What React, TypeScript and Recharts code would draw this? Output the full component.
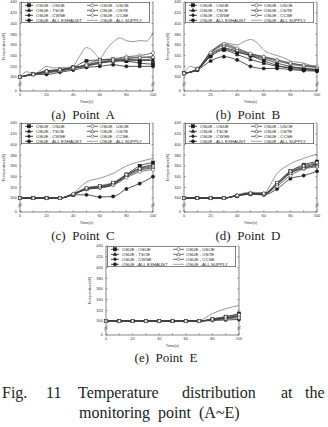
import React from 'react';
import { LineChart, Line, XAxis, YAxis, Legend } from 'recharts';

// ---- shared axes ----
const TIME = [0, 10, 20, 30, 40, 50, 60, 70, 80, 90, 100];
const TIME_FINE = [0, 5, 10, 15, 20, 25, 30, 35, 40, 45, 50, 55, 60, 65, 70, 75, 80, 85, 90, 95, 100];
const X_TICKS = [0, 10, 20, 30, 40, 50, 60, 70, 80, 90, 100];
// the temperature axis is broken: its bottom edge is labelled "0"
const Y_BOTTOM = 274;
const Y_BREAK = 287;
const Y_TICKS = [274, 287, 300, 320, 340, 360, 380, 400, 420, 440];

const SERIES_NAMES = [
  'OSUE - OSUE',
  'OSUE - TSOE',
  'OSUE - CWSE',
  'OSUE - ALL EXHAUST',
  'OSUE - USOE',
  'OSUE - OSTE',
  'OSUE - CCSE',
  'OSUE - ALL SUPPLY',
];

// ---- Point A (K) ----
const A_OSUE = [300, 306, 310, 313, 318, 330, 332, 333, 330, 326, 324];
const A_TSOE = [300, 305, 308, 311, 316, 320, 326, 329, 330, 331, 331];
const A_CWSE = [300, 305, 312, 314, 318, 322, 328, 330, 333, 332, 334];
const A_ALL_EXHAUST = [300, 305, 305, 309, 313, 318, 320, 323, 320, 320, 320];
const A_USOE = [300, 306, 309, 312, 316, 324, 332, 334, 338, 340, 345];
const A_OSTE = [300, 305, 310, 313, 317, 321, 326, 330, 334, 337, 338];
const A_CCSE = [300, 305, 311, 314, 318, 322, 329, 332, 336, 336, 337];
const A_ALL_SUPPLY = [300, 310, 305, 312, 320, 317, 318, 318, 321, 340, 355, 348, 335, 352, 365, 373, 368, 366, 368, 367, 383];

// ---- Point B (K) ----
const B_OSUE = [307, 314, 340, 352, 346, 340, 330, 322, 316, 314, 312];
const B_TSOE = [307, 314, 338, 350, 342, 333, 326, 320, 318, 316, 314];
const B_CWSE = [307, 314, 342, 354, 348, 340, 334, 326, 320, 316, 314];
const B_ALL_EXHAUST = [307, 313, 330, 338, 332, 320, 316, 316, 314, 312, 311];
const B_USOE = [307, 316, 345, 360, 352, 343, 338, 332, 326, 322, 318];
const B_OSTE = [307, 315, 344, 358, 350, 342, 336, 330, 324, 320, 318];
const B_CCSE = [307, 315, 346, 362, 354, 344, 338, 332, 326, 322, 320];
const B_ALL_SUPPLY = [307, 320, 316, 330, 348, 356, 364, 362, 360, 366, 370, 364, 350, 344, 340, 336, 330, 328, 326, 322, 320];

// ---- Point C (K) ----
const C_OSUE = [300, 300, 300, 300, 306, 318, 322, 328, 344, 360, 366];
const C_TSOE = [300, 300, 300, 300, 307, 317, 320, 326, 342, 356, 362];
const C_CWSE = [300, 300, 300, 300, 307, 316, 319, 325, 340, 352, 356];
const C_ALL_EXHAUST = [300, 300, 300, 300, 306, 306, 302, 303, 317, 327, 340];
const C_USOE = [300, 300, 300, 300, 307, 317, 319, 324, 338, 349, 353];
const C_OSTE = [300, 300, 300, 300, 308, 318, 321, 327, 343, 354, 358];
const C_CCSE = [300, 300, 300, 300, 308, 319, 323, 329, 344, 355, 360];
const C_ALL_SUPPLY = [300, 300, 300, 300, 309, 330, 337, 346, 360, 368, 374];

// ---- Point D (K) ----
const D_OSUE = [300, 300, 300, 300, 304, 308, 307, 328, 350, 362, 368];
const D_TSOE = [300, 300, 300, 300, 305, 309, 308, 325, 346, 356, 362];
const D_CWSE = [300, 300, 300, 300, 305, 309, 308, 326, 348, 358, 364];
const D_ALL_EXHAUST = [300, 300, 300, 300, 304, 307, 306, 317, 336, 342, 350];
const D_USOE = [300, 300, 300, 300, 305, 308, 307, 322, 342, 354, 358];
const D_OSTE = [300, 300, 300, 300, 305, 309, 308, 326, 347, 356, 360];
const D_CCSE = [300, 300, 300, 300, 305, 309, 309, 329, 350, 360, 366];
const D_ALL_SUPPLY = [300, 300, 300, 300, 306, 311, 310, 346, 364, 374, 382];

// ---- Point E (K) ----
const E_OSUE = [300, 300, 300, 300, 300, 300, 300, 300, 304, 308, 314];
const E_TSOE = [300, 300, 300, 300, 300, 300, 300, 300, 303, 306, 310];
const E_CWSE = [300, 300, 300, 300, 300, 300, 300, 300, 302, 305, 308];
const E_ALL_EXHAUST = [300, 300, 300, 300, 300, 300, 300, 300, 301, 302, 303];
const E_USOE = [300, 300, 300, 300, 300, 300, 300, 300, 302, 304, 306];
const E_OSTE = [300, 300, 300, 300, 300, 300, 300, 300, 303, 306, 310];
const E_CCSE = [300, 300, 300, 300, 300, 300, 300, 300, 304, 308, 312];
const E_ALL_SUPPLY = [300, 300, 300, 300, 300, 300, 300, 301, 314, 323, 329];

type Pt = { t: number; v: number };
const toPts = (times: number[], vals: number[]): Pt[] => times.map((t, i) => ({ t, v: vals[i] }));

type MarkerKind = 'square' | 'triangle' | 'diamond' | 'circle' | 'none';
const SERIES_STYLE: { marker: MarkerKind; filled: boolean; color: string }[] = [
  { marker: 'square', filled: true, color: '#1c1c1c' },
  { marker: 'triangle', filled: true, color: '#1c1c1c' },
  { marker: 'diamond', filled: true, color: '#1c1c1c' },
  { marker: 'circle', filled: true, color: '#1c1c1c' },
  { marker: 'circle', filled: false, color: '#444' },
  { marker: 'triangle', filled: false, color: '#444' },
  { marker: 'diamond', filled: false, color: '#444' },
  { marker: 'none', filled: false, color: '#8a8a8a' },
];

const AXIS = '#333';
const SANS = 'Liberation Sans, Arial, sans-serif';
const SERIF = 'Liberation Serif, Times New Roman, serif';

function Marker({ kind, cx, cy, filled, color }: { kind: MarkerKind; cx: number; cy: number; filled: boolean; color: string }) {
  const r = 1.6;
  const fill = filled ? color : '#fff';
  const common = { fill, stroke: color, strokeWidth: 0.55 };
  if (kind === 'square') return <rect x={cx - r} y={cy - r} width={2 * r} height={2 * r} {...common} />;
  if (kind === 'triangle')
    return <polygon points={`${cx},${cy - r - 0.3} ${cx + r + 0.2},${cy + r - 0.3} ${cx - r - 0.2},${cy + r - 0.3}`} {...common} />;
  if (kind === 'diamond')
    return <polygon points={`${cx},${cy - r - 0.2} ${cx + r},${cy} ${cx},${cy + r + 0.2} ${cx - r},${cy}`} {...common} />;
  if (kind === 'circle') return <circle cx={cx} cy={cy} r={r} {...common} />;
  return <g />;
}

function BreakMark({ x, y }: { x: number; y: number }) {
  return (
    <g stroke={AXIS} strokeWidth={0.5}>
      <line x1={x - 1.8} y1={y + 0.2} x2={x + 1.8} y2={y - 1.8} />
      <line x1={x - 1.8} y1={y + 2} x2={x + 1.8} y2={y} />
    </g>
  );
}

function LeftTick(props: any) {
  const { x, y, payload } = props;
  const v = payload.value;
  if (v === Y_BREAK) return <BreakMark x={x} y={y} />;
  const label = v === Y_BOTTOM ? '0' : String(v);
  return (
    <g>
      <line x1={x} x2={x + 1.5} y1={y} y2={y} stroke={AXIS} strokeWidth={0.5} />
      <text x={x - 3} y={y + 1.4} textAnchor="end" fontSize={4} fill="#333" fontFamily={SANS}>
        {label}
      </text>
    </g>
  );
}

function RightTick(props: any) {
  const { x, y, payload } = props;
  if (payload.value === Y_BREAK) return <BreakMark x={x} y={y} />;
  return <line x1={x} x2={x - 1.5} y1={y} y2={y} stroke={AXIS} strokeWidth={0.5} />;
}

function BottomTick(props: any) {
  const { x, y, payload } = props;
  const v = payload.value;
  return (
    <g>
      <line x1={x} x2={x} y1={y} y2={y - 1.5} stroke={AXIS} strokeWidth={0.5} />
      {v % 20 === 0 && (
        <text x={x} y={y + 4.8} textAnchor="middle" fontSize={4} fill="#333" fontFamily={SANS}>
          {v}
        </text>
      )}
    </g>
  );
}

function TopTick(props: any) {
  const { x, y } = props;
  return <line x1={x} x2={x} y1={y} y2={y + 1.5} stroke={AXIS} strokeWidth={0.5} />;
}

function LegendBox() {
  return (
    <svg width={129} height={21} style={{ display: 'block' }}>
      <rect x={0.3} y={0.3} width={128.4} height={20.4} fill="#fff" stroke={AXIS} strokeWidth={0.6} />
      {SERIES_NAMES.map((name, i) => {
        const col = i < 4 ? 0 : 1;
        const row = i % 4;
        const y = 3.3 + row * 5;
        const x0 = col === 0 ? 4 : 66;
        const x1 = col === 0 ? 12 : 77;
        const tx = col === 0 ? 15 : 79;
        const s = SERIES_STYLE[i];
        return (
          <g key={name}>
            <line x1={x0} x2={x1} y1={y} y2={y} stroke={s.color} strokeWidth={0.8} />
            <Marker kind={s.marker} cx={(x0 + x1) / 2} cy={y} filled={s.filled} color={s.color} />
            <text x={tx} y={y + 1.5} fontSize={4.4} fill="#222" fontFamily={SANS}>
              {name}
            </text>
          </g>
        );
      })}
    </svg>
  );
}

type PanelProps = {
  left: number;
  top: number;
  values: number[][];
  supply: number[];
  supplyTimes: number[];
};

function PointPanel({ left, top, values, supply, supplyTimes }: PanelProps) {
  const lines = values.map((vals) => toPts(TIME, vals));
  const supplyPts = toPts(supplyTimes, supply);
  return (
    <div style={{ position: 'absolute', left, top }}>
      <LineChart width={164} height={104} margin={{ top: 2, right: 10, bottom: 0, left: 0 }}>
        <XAxis
          dataKey="t"
          type="number"
          domain={[0, 100]}
          ticks={X_TICKS}
          interval={0}
          tickSize={0}
          tickMargin={0}
          tickLine={false}
          tick={BottomTick}
          height={13}
          stroke={AXIS}
          strokeWidth={0.6}
          label={{ value: 'Time(s)', position: 'insideBottom', offset: 1.5, fontSize: 4, fill: '#333', fontFamily: SANS }}
        />
        <XAxis
          xAxisId="top"
          orientation="top"
          dataKey="t"
          type="number"
          domain={[0, 100]}
          ticks={X_TICKS}
          interval={0}
          tickSize={0}
          tickMargin={0}
          tickLine={false}
          tick={TopTick}
          height={0}
          stroke={AXIS}
          strokeWidth={0.6}
        />
        <YAxis
          type="number"
          domain={[Y_BOTTOM, 440]}
          ticks={Y_TICKS}
          interval={0}
          allowDataOverflow
          tickSize={0}
          tickMargin={0}
          tickLine={false}
          tick={LeftTick}
          width={20}
          stroke={AXIS}
          strokeWidth={0.6}
          label={{
            value: 'Temperature(K)',
            angle: -90,
            position: 'insideLeft',
            offset: 4,
            style: { textAnchor: 'middle', fontSize: 4, fill: '#333', fontFamily: SANS },
          }}
        />
        <YAxis
          yAxisId="right"
          orientation="right"
          type="number"
          domain={[Y_BOTTOM, 440]}
          ticks={Y_TICKS}
          interval={0}
          allowDataOverflow
          tickSize={0}
          tickMargin={0}
          tickLine={false}
          tick={RightTick}
          width={1}
          stroke={AXIS}
          strokeWidth={0.6}
        />
        <Legend
          layout="vertical"
          align="center"
          verticalAlign="middle"
          wrapperStyle={{ position: 'absolute', left: 21, top: 2, width: 129, height: 21 }}
          content={() => <LegendBox />}
        />
        <Line
          data={supplyPts}
          dataKey="v"
          name={SERIES_NAMES[7]}
          type="monotone"
          stroke={SERIES_STYLE[7].color}
          strokeWidth={0.9}
          dot={false}
          activeDot={false}
          isAnimationActive={false}
        />
        {lines.map((pts, i) => {
          const s = SERIES_STYLE[i];
          return (
            <Line
              key={SERIES_NAMES[i]}
              data={pts}
              dataKey="v"
              name={SERIES_NAMES[i]}
              type="monotone"
              stroke={s.color}
              strokeWidth={0.75}
              dot={(p: any) => (
                <Marker key={`m-${i}-${p.index}`} kind={s.marker} cx={p.cx} cy={p.cy} filled={s.filled} color={s.color} />
              )}
              activeDot={false}
              isAnimationActive={false}
            />
          );
        })}
      </LineChart>
    </div>
  );
}

const CAPTIONS = [
  { text: '(a)  Point  A', x: 83, y: 119 },
  { text: '(b)  Point  B', x: 248, y: 119 },
  { text: '(c)  Point  C', x: 83, y: 240 },
  { text: '(d)  Point  D', x: 248, y: 240 },
  { text: '(e)  Point  E', x: 166, y: 362 },
];

const FIG_LINE_1 = [
  { w: 'Fig.', x: 2 },
  { w: '11', x: 46 },
  { w: 'Temperature', x: 78 },
  { w: 'distribution', x: 182 },
  { w: 'at', x: 281 },
  { w: 'the', x: 305 },
];

export default function App() {
  return (
    <div style={{ position: 'absolute', left: 0, top: 0, width: 328, height: 427, background: '#fff', overflow: 'hidden' }}>
      <svg width={328} height={427} style={{ position: 'absolute', left: 0, top: 0 }}>
        {CAPTIONS.map((c) => (
          <text key={c.text} x={c.x} y={c.y} textAnchor="middle" fontSize={13} fill="#222" fontFamily={SERIF} style={{ whiteSpace: 'pre' }}>
            {c.text}
          </text>
        ))}
        {FIG_LINE_1.map((f) => (
          <text key={f.w} x={f.x} y={398} fontSize={16} fill="#222" fontFamily={SERIF}>
            {f.w}
          </text>
        ))}
        <text x={79} y={418} fontSize={16} fill="#222" fontFamily={SERIF} style={{ whiteSpace: 'pre' }}>
          {'monitoring  point  (A~E)'}
        </text>
      </svg>
      <PointPanel left={0} top={0} values={[A_OSUE, A_TSOE, A_CWSE, A_ALL_EXHAUST, A_USOE, A_OSTE, A_CCSE]} supply={A_ALL_SUPPLY} supplyTimes={TIME_FINE} />
      <PointPanel left={164} top={0} values={[B_OSUE, B_TSOE, B_CWSE, B_ALL_EXHAUST, B_USOE, B_OSTE, B_CCSE]} supply={B_ALL_SUPPLY} supplyTimes={TIME_FINE} />
      <PointPanel left={0} top={121} values={[C_OSUE, C_TSOE, C_CWSE, C_ALL_EXHAUST, C_USOE, C_OSTE, C_CCSE]} supply={C_ALL_SUPPLY} supplyTimes={TIME} />
      <PointPanel left={164} top={121} values={[D_OSUE, D_TSOE, D_CWSE, D_ALL_EXHAUST, D_USOE, D_OSTE, D_CCSE]} supply={D_ALL_SUPPLY} supplyTimes={TIME} />
      <PointPanel left={86} top={244} values={[E_OSUE, E_TSOE, E_CWSE, E_ALL_EXHAUST, E_USOE, E_OSTE, E_CCSE]} supply={E_ALL_SUPPLY} supplyTimes={TIME} />
    </div>
  );
}
